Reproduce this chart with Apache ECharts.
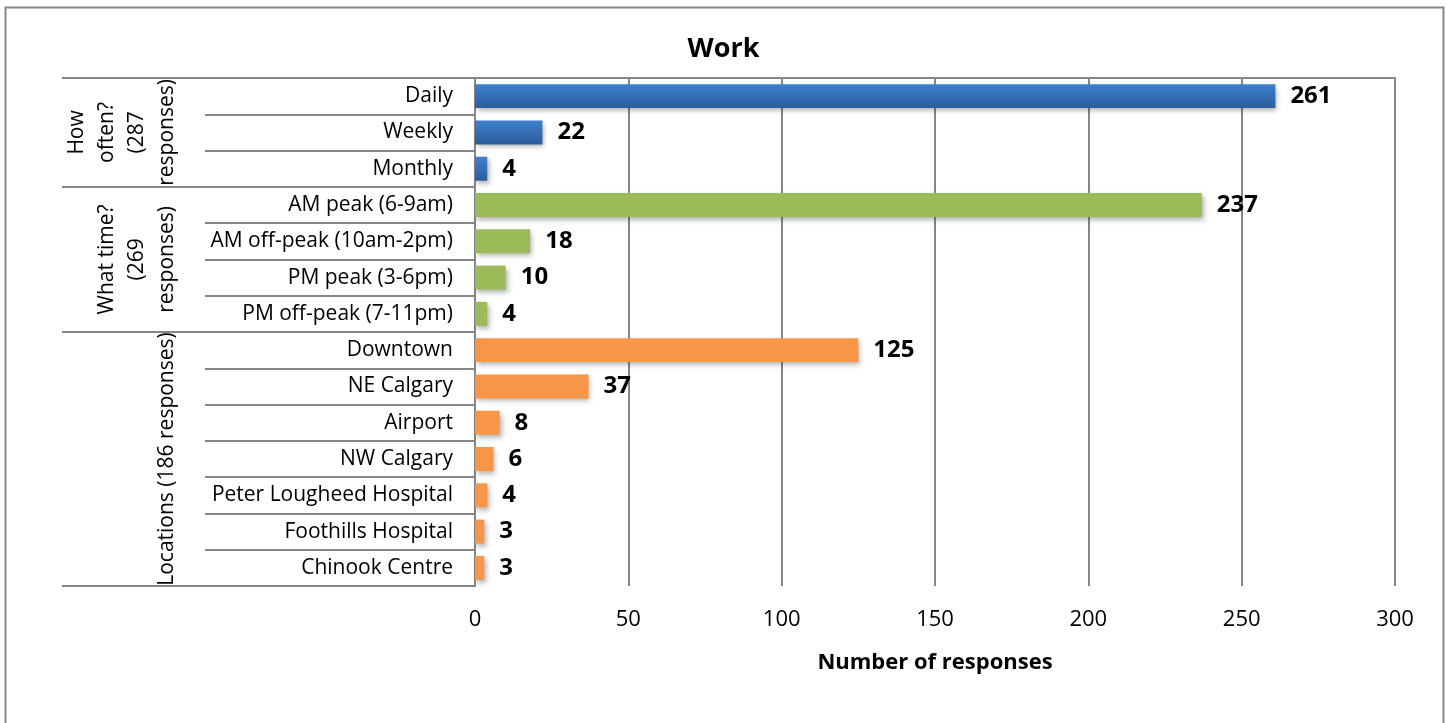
<!DOCTYPE html>
<html>
<head>
<meta charset="utf-8">
<script src="https://cdn.jsdelivr.net/npm/echarts@6/dist/echarts.min.js"></script>
<style>
  html, body { margin: 0; padding: 0; background: #fff; }
  #chart { width: 1447px; height: 723px; }
</style>
</head>
<body>
<div id="chart"></div>
<script>
// categories top -> bottom
const categorias = ['Daily', 'Weekly', 'Monthly',
    'AM peak (6-9am)', 'AM off-peak (10am-2pm)', 'PM peak (3-6pm)', 'PM off-peak (7-11pm)',
    'Downtown', 'NE Calgary', 'Airport', 'NW Calgary', 'Peter Lougheed Hospital', 'Foothills Hospital', 'Chinook Centre'];
const respuestas = [261, 22, 4, 237, 18, 10, 4, 125, 37, 8, 6, 4, 3, 3];
// which group each category belongs to
const grupoDe = [0, 0, 0, 1, 1, 1, 1, 2, 2, 2, 2, 2, 2, 2];
const grupos = ['How\noften?\n(287\nresponses)', 'What time?\n(269\nresponses)', 'Locations (186 responses)'];
const ticksX = [0, 50, 100, 150, 200, 250, 300];

// group boundaries and centres (in category units)
const limites = [0];
grupos.forEach((g, i) => limites.push(limites[i] + grupoDe.filter(x => x === i).length));
const centros = grupos.map((g, i) => (limites[i] + limites[i + 1]) / 2);

const gris = '#868686';
const fuente = 'Open Sans';
const colores = [
    new echarts.graphic.LinearGradient(0, 0, 0, 1, [
        { offset: 0, color: '#3f80cf' }, { offset: 1, color: '#2b5d9c' }]),
    '#9bbb59',
    '#f79646'
];

const chart = echarts.init(document.getElementById('chart'));

const option = {
    animation: false,
    textStyle: { fontFamily: fuente },
    title: {
        text: 'Work',
        left: 'center',
        top: 31,
        textStyle: { fontSize: 27, fontWeight: 'bold', color: '#000', fontFamily: fuente }
    },
    graphic: [{
        type: 'rect',
        shape: { x: 5.5, y: 7.5, width: 1438, height: 730 },
        style: { fill: 'none', stroke: gris, lineWidth: 2 },
        silent: true
    }],
    grid: { left: 475, right: 52, top: 78, bottom: 137 },
    xAxis: {
        type: 'value',
        min: ticksX[0],
        max: ticksX[ticksX.length - 1],
        interval: 50,
        name: 'Number of responses',
        nameLocation: 'middle',
        nameGap: 66,
        nameTextStyle: { fontSize: 22, fontWeight: 'bold', color: '#000', fontFamily: fuente },
        axisLine: { show: true, lineStyle: { color: gris, width: 2 } },
        axisTick: { show: true, length: 6, lineStyle: { color: gris, width: 2 } },
        axisLabel: { fontSize: 22, color: '#000', margin: 23, fontFamily: fuente },
        splitLine: { show: true, lineStyle: { color: gris, width: 2 } }
    },
    yAxis: [
        {
            type: 'category',
            data: categorias,
            inverse: true,
            axisLine: { show: true, lineStyle: { color: gris, width: 2 } },
            axisTick: { show: true, interval: 0, length: 270, lineStyle: { color: gris, width: 2 } },
            axisLabel: { interval: 0, fontSize: 21, color: '#000', margin: 22, fontFamily: fuente }
        },
        {
            type: 'value',
            min: 0,
            max: categorias.length,
            inverse: true,
            position: 'left',
            axisLine: { show: false },
            splitLine: { show: false },
            axisTick: { show: true, customValues: limites, length: 413, lineStyle: { color: gris, width: 2 } },
            axisLabel: {
                customValues: centros,
                rotate: 90,
                margin: 293,
                fontSize: 21,
                lineHeight: 30,
                color: '#000',
                fontFamily: fuente,
                formatter: v => grupos[centros.indexOf(v)] || ''
            }
        }
    ],
    series: [{
        name: 'Work',
        type: 'bar',
        yAxisIndex: 0,
        barCategoryGap: '34%',
        data: respuestas.map((v, i) => ({
            value: v,
            itemStyle: { color: colores[grupoDe[i]] }
        })),
        itemStyle: {
            shadowBlur: 5,
            shadowOffsetX: 2,
            shadowOffsetY: 3,
            shadowColor: 'rgba(0, 0, 0, 0.3)'
        },
        label: {
            show: true,
            position: 'right',
            distance: 15,
            fontSize: 24,
            fontWeight: 'bold',
            color: '#000',
            fontFamily: fuente
        }
    }]
};

chart.setOption(option);
</script>
</body>
</html>
